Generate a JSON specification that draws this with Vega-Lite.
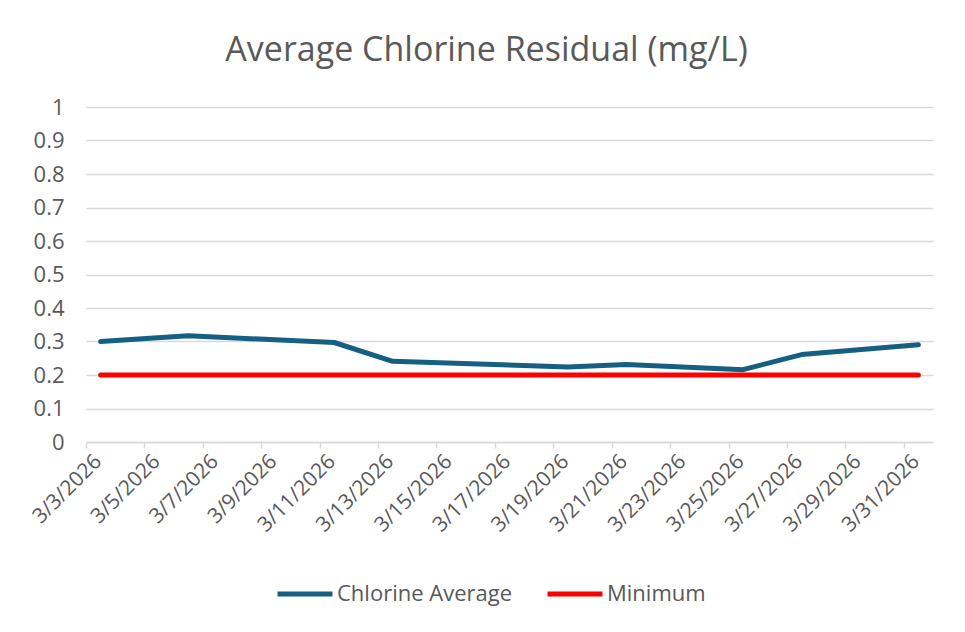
{
  "$schema": "https://vega.github.io/schema/vega-lite/v6.json",
  "width": 847,
  "height": 335,
  "autosize": {"type": "none"},
  "padding": {"left": 86, "top": 107, "right": 32, "bottom": 190},
  "background": "white",
  "title": {
    "text": "Average Chlorine Residual (mg/L)",
    "fontSize": 34,
    "font": "Open Sans",
    "fontWeight": "normal",
    "color": "#595959",
    "anchor": "middle",
    "dx": -23,
    "baseline": "alphabetic",
    "offset": 1
  },
  "data": {
    "values": [
      {"date": "2026-03-03", "series": "Chlorine Average", "value": 0.300},
      {"date": "2026-03-06", "series": "Chlorine Average", "value": 0.317},
      {"date": "2026-03-11", "series": "Chlorine Average", "value": 0.297},
      {"date": "2026-03-13", "series": "Chlorine Average", "value": 0.241},
      {"date": "2026-03-19", "series": "Chlorine Average", "value": 0.224},
      {"date": "2026-03-21", "series": "Chlorine Average", "value": 0.231},
      {"date": "2026-03-25", "series": "Chlorine Average", "value": 0.216},
      {"date": "2026-03-27", "series": "Chlorine Average", "value": 0.261},
      {"date": "2026-03-31", "series": "Chlorine Average", "value": 0.290},
      {"date": "2026-03-03", "series": "Minimum", "value": 0.2},
      {"date": "2026-03-06", "series": "Minimum", "value": 0.2},
      {"date": "2026-03-11", "series": "Minimum", "value": 0.2},
      {"date": "2026-03-13", "series": "Minimum", "value": 0.2},
      {"date": "2026-03-19", "series": "Minimum", "value": 0.2},
      {"date": "2026-03-21", "series": "Minimum", "value": 0.2},
      {"date": "2026-03-25", "series": "Minimum", "value": 0.2},
      {"date": "2026-03-27", "series": "Minimum", "value": 0.2},
      {"date": "2026-03-31", "series": "Minimum", "value": 0.2}
    ]
  },
  "mark": {"type": "line", "strokeWidth": 5, "strokeCap": "round", "strokeJoin": "round"},
  "encoding": {
    "x": {
      "field": "date",
      "type": "temporal",
      "timeUnit": "utcyearmonthdate",
      "bandPosition": 0.5,
      "scale": {
        "type": "utc",
        "domain": [
          {"year": 2026, "month": 3, "date": 3, "utc": true},
          {"year": 2026, "month": 4, "date": 1, "utc": true}
        ]
      },
      "axis": {
        "title": null,
        "values": [
          {"year": 2026, "month": 3, "date": 3, "utc": true},
          {"year": 2026, "month": 3, "date": 5, "utc": true},
          {"year": 2026, "month": 3, "date": 7, "utc": true},
          {"year": 2026, "month": 3, "date": 9, "utc": true},
          {"year": 2026, "month": 3, "date": 11, "utc": true},
          {"year": 2026, "month": 3, "date": 13, "utc": true},
          {"year": 2026, "month": 3, "date": 15, "utc": true},
          {"year": 2026, "month": 3, "date": 17, "utc": true},
          {"year": 2026, "month": 3, "date": 19, "utc": true},
          {"year": 2026, "month": 3, "date": 21, "utc": true},
          {"year": 2026, "month": 3, "date": 23, "utc": true},
          {"year": 2026, "month": 3, "date": 25, "utc": true},
          {"year": 2026, "month": 3, "date": 27, "utc": true},
          {"year": 2026, "month": 3, "date": 29, "utc": true},
          {"year": 2026, "month": 3, "date": 31, "utc": true}
        ],
        "labelExpr": "utcFormat(datum.value, '%-m/%-d/%Y')",
        "labelAngle": -45,
        "labelAlign": "right",
        "labelBaseline": "middle",
        "labelOffset": 12,
        "labelPadding": 10,
        "labelFont": "Open Sans",
        "labelFontSize": 21,
        "labelColor": "#595959",
        "labelOverlap": false,
        "labelFlush": false,
        "labelLimit": 300,
        "grid": false,
        "domainColor": "#d9d9d9",
        "domainWidth": 1.5,
        "tickColor": "#d9d9d9",
        "tickWidth": 1.5,
        "tickSize": 6
      }
    },
    "y": {
      "field": "value",
      "type": "quantitative",
      "scale": {"domain": [0, 1], "nice": false, "zero": true},
      "axis": {
        "title": null,
        "values": [0, 0.1, 0.2, 0.3, 0.4, 0.5, 0.6, 0.7, 0.8, 0.9, 1],
        "format": "~g",
        "domain": false,
        "ticks": false,
        "labelPadding": 22,
        "labelFont": "Open Sans",
        "labelFontSize": 22,
        "labelColor": "#595959",
        "gridColor": "#d9d9d9",
        "gridWidth": 1.5
      }
    },
    "color": {
      "field": "series",
      "type": "nominal",
      "scale": {"domain": ["Chlorine Average", "Minimum"], "range": ["#156082", "#FF0000"]},
      "legend": {
        "title": null,
        "orient": "none",
        "direction": "horizontal",
        "legendX": 189,
        "legendY": 457,
        "symbolType": "stroke",
        "symbolSize": 3025,
        "symbolStrokeWidth": 5,
        "labelFont": "Open Sans",
        "labelFontSize": 22,
        "labelColor": "#595959",
        "labelOffset": 2,
        "labelLimit": 300,
        "columnPadding": 24
      }
    }
  },
  "config": {"view": {"stroke": null}}
}
